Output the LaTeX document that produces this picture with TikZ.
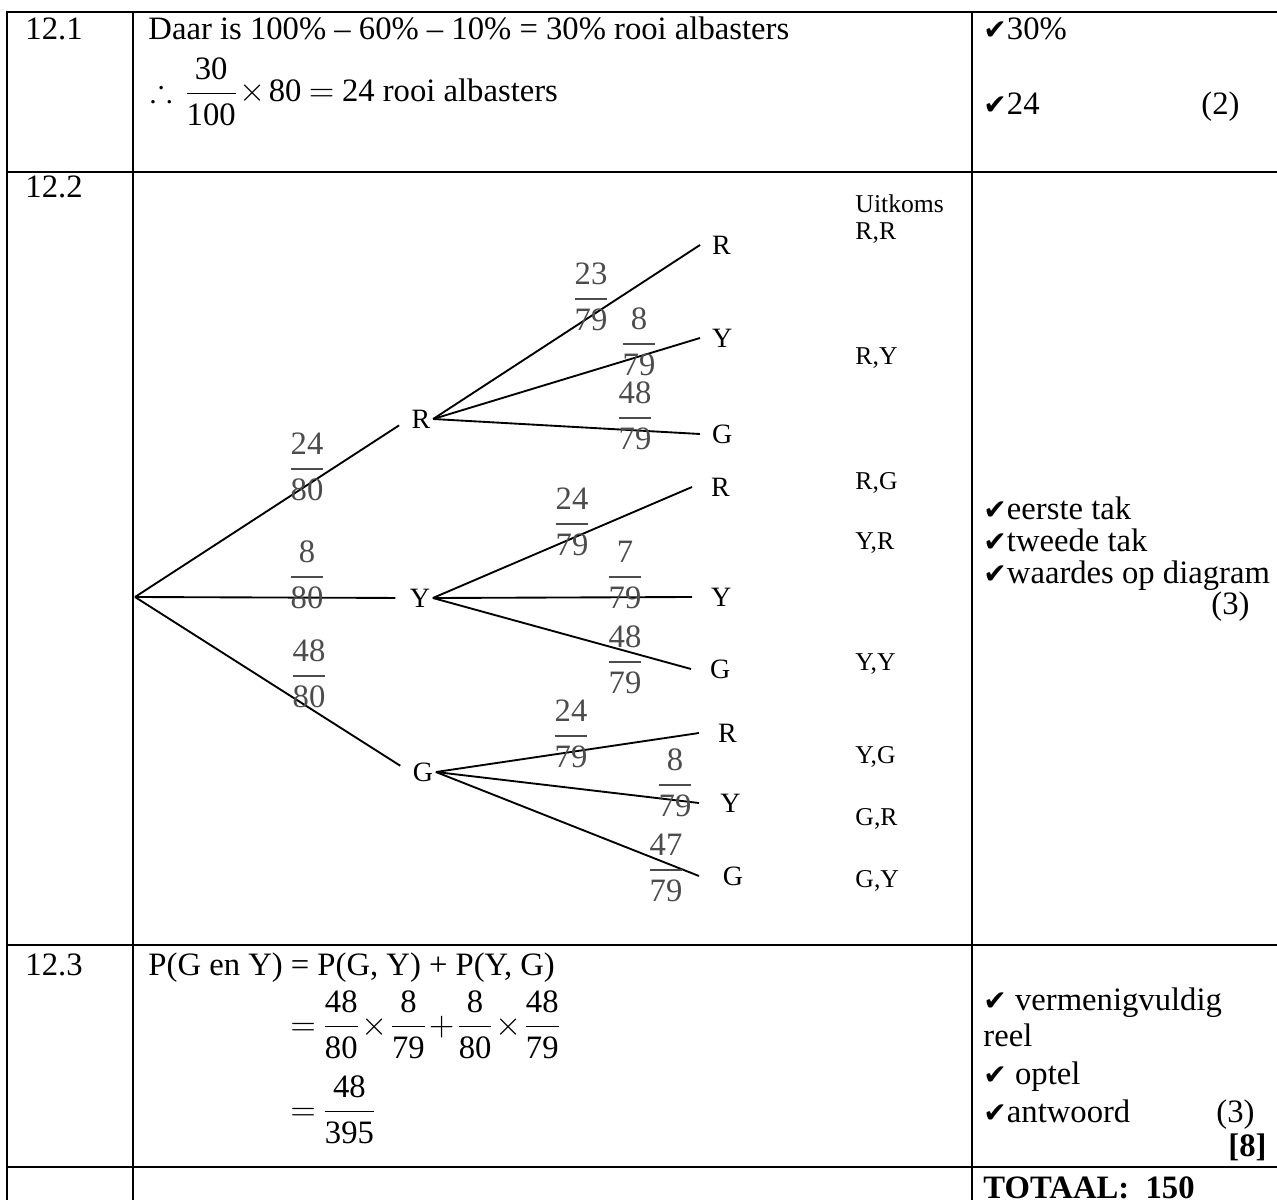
\documentclass[tikz,border=0pt]{standalone}
\usepackage{amsmath,amssymb}
\usepackage{fontspec}
\setmainfont{Liberation Serif}
\newfontfamily\dingfont{DejaVu Sans}
\newcommand{\fr}[2]{\ensuremath{\dfrac{\text{#1}}{\text{#2}}}}
\newcommand{\tick}{{\dingfont\fontsize{12}{14}\selectfont ✔}}
\newcommand{\tight}{\medmuskip=1.5mu\thickmuskip=4mu\nulldelimiterspace=0.6pt}

\begin{document}
\begin{tikzpicture}[x=0.4286pt, y=-0.4286pt,
  txt/.style={anchor=base west, inner sep=0pt, font=\fontsize{14}{16}\selectfont},
  rtxt/.style={anchor=base east, inner sep=0pt, font=\fontsize{14}{16}\selectfont},
  btxt/.style={anchor=base east, inner sep=0pt, font=\fontsize{14}{16}\selectfont\bfseries},
  pick/.style={inner sep=0pt, inner xsep=1pt, font=\fontsize{12}{14}\selectfont},
  leaf/.style={anchor=west, inner sep=0pt, inner xsep=5pt, font=\fontsize{12}{14}\selectfont},
  prob/.style={inner sep=0pt, text=black!70, font=\fontsize{14}{16}\selectfont},
  outc/.style={anchor=base west, inner sep=0pt, font=\fontsize{11}{13}\selectfont},
  grid/.style={line width=1.1pt, line cap=rect},
  branch/.style={line width=0.8pt}]
\useasboundingbox (0,0) rectangle (1277,1200);

% table rules
\foreach \y in {12,172,945,1167}
  \draw[grid] (7,\y) -- (1277,\y);
\foreach \x in {7,133,972}
  \draw[grid] (\x,12) -- (\x,1200);

% 12.1
\node[txt] (n1) at (25,40) {12.1};
\node[txt] (a1) at (148,40) {Daar is 100\% – 60\% – 10\% = 30\% rooi albasters};
\node[txt] (a2) at (150,102) {\tight$\therefore\,\fr{30}{100}\times\text{80} = \text{24}$ rooi albasters};
\node[txt] (m1) at (983,40) {\tick30\%};
\node[txt] (m2) at (983,115) {\tick24};
\node[rtxt] (s1) at (1240,115) {(2)};

% 12.2 tree
\node[txt] (n2) at (25,198) {12.2};
\coordinate (root) at (135,597);
\node[pick] (R1) at (421,419) {R};
\node[pick] (Y1) at (420,598) {Y};
\node[pick] (G1) at (423,772) {G};
\draw[branch, shorten >=5pt] (root) -- (R1.west);
\draw[branch, shorten >=5pt] (root) -- (Y1.west);
\draw[branch, shorten >=5pt] (root) -- (G1.west);

\node[leaf] (RR) at (700,245) {R};
\node[leaf] (RY) at (700,338) {Y};
\node[leaf] (RG) at (700,434) {G};
\node[leaf, inner xsep=8pt] (YR) at (692,487) {R};
\node[leaf, inner xsep=8pt] (YY) at (692,597) {Y};
\node[leaf, inner xsep=8pt] (YG) at (691,669) {G};
\node[leaf, inner xsep=8pt] (GR) at (699,733) {R};
\node[leaf, inner xsep=9pt] (GY) at (699,803) {Y};
\node[leaf, inner xsep=10pt] (GG) at (699,876) {G};
\foreach \a/\b in {R1/RR,R1/RY,R1/RG,Y1/YR,Y1/YY,Y1/YG,G1/GR,G1/GY,G1/GG}
  \draw[branch] (\a.east) -- (\b.west);

% probabilities
\node[prob] (p1) at (307,467) {\fr{24}{80}};
\node[prob] (p2) at (307,575) {\fr{8}{80}};
\node[prob] (p3) at (309,674) {\fr{48}{80}};
\node[prob] (p4) at (591,297) {\fr{23}{79}};
\node[prob] (p5) at (639,342) {\fr{8}{79}};
\node[prob] (p6) at (635,416) {\fr{48}{79}};
\node[prob] (p7) at (572,522) {\fr{24}{79}};
\node[prob] (p8) at (625,575) {\fr{7}{79}};
\node[prob] (p9) at (625,660) {\fr{48}{79}};
\node[prob] (p10) at (571,734) {\fr{24}{79}};
\node[prob] (p11) at (675,783) {\fr{8}{79}};
\node[prob] (p12) at (666,868) {\fr{47}{79}};

% outcomes
\node[outc] (o0) at (855,213) {Uitkoms};
\node[outc] (o1) at (855,240) {R,R};
\node[outc] (o2) at (855,365) {R,Y};
\node[outc] (o3) at (855,489) {R,G};
\node[outc] (o4) at (855,549) {Y,R};
\node[outc] (o5) at (855,670) {Y,Y};
\node[outc] (o6) at (855,763) {Y,G};
\node[outc] (o7) at (855,825) {G,R};
\node[outc] (o8) at (855,887) {G,Y};

\node[txt] (m3) at (983,519) {\tick eerste tak};
\node[txt] (m4) at (983,551) {\tick tweede tak};
\node[txt] (m5) at (983,583) {\tick waardes op diagram};
\node[rtxt] (s2) at (1250,614) {(3)};

% 12.3
\node[txt] (n3) at (25,975) {12.3};
\node[txt] (c1) at (148,975) {P(G en Y) = P(G, Y) + P(Y, G)};
\node[txt] (c2) at (290,1035) {\tight$=\fr{48}{80}\times\fr{8}{79}+\fr{8}{80}\times\fr{48}{79}$};
\node[txt] (c3) at (290,1120) {\tight$=\fr{48}{395}$};
\node[txt] (m6) at (983,1010) {\tick\ vermenigvuldig};
\node[txt] (m7) at (983,1046) {reel};
\node[txt] (m8) at (983,1084) {\tick\ optel};
\node[txt] (m9) at (983,1122) {\tick antwoord};
\node[rtxt] (s3) at (1255,1122) {(3)};
\node[btxt] (s4) at (1267,1156) {[8]};

% totaal
\node[txt, font=\fontsize{14}{16}\selectfont\bfseries] (tot) at (983,1198) {TOTAAL:\ \ 150};
\end{tikzpicture}
\end{document}
